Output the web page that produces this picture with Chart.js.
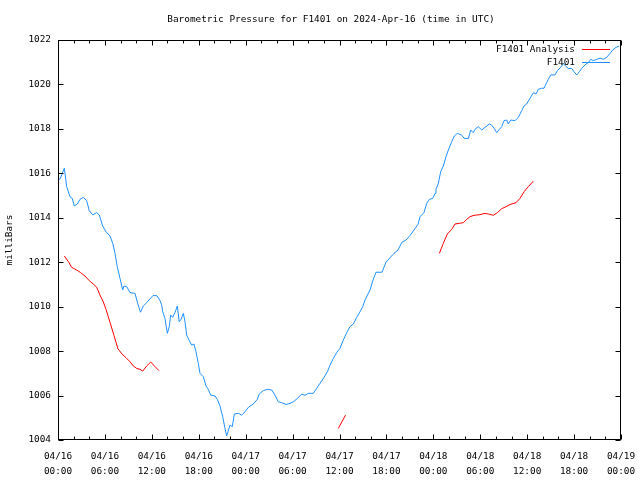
<!DOCTYPE html>
<html><head><meta charset="utf-8">
<script src="https://cdn.jsdelivr.net/npm/chart.js@4/dist/chart.umd.min.js"></script>
<style>html,body{margin:0;padding:0;background:#fff}#wrap{width:640px;height:480px}</style>
</head><body><div id="wrap"><canvas id="c" width="640" height="480"></canvas></div>
<script>
const titleText = "Barometric Pressure for F1401 on 2024-Apr-16 (time in UTC)";
const yAxisLabel = "milliBars";
const seriesNames = ["F1401 Analysis", "F1401"];
const xTickHours = [0, 6, 12, 18, 24, 30, 36, 42, 48, 54, 60, 66, 72];
const xTickDates = ["04/16","04/16","04/16","04/16","04/17","04/17","04/17","04/17","04/18","04/18","04/18","04/18","04/19"];
const xTickTimes = ["00:00","06:00","12:00","18:00","00:00","06:00","12:00","18:00","00:00","06:00","12:00","18:00","00:00"];
const yTicks = [1004, 1006, 1008, 1010, 1012, 1014, 1016, 1018, 1020, 1022];

// F1401 observations: hours since 04/16 00:00 UTC
const stationHours = [0.0,0.26,0.81,1.11,1.53,1.83,2.08,2.47,2.81,3.24,3.67,4.0,4.44,4.95,5.28,5.72,6.14,6.65,7.0,7.29,7.58,7.93,8.27,8.44,8.79,9.21,9.85,10.17,10.55,10.91,11.34,11.77,12.15,12.66,13.04,13.26,13.39,13.68,13.98,14.23,14.41,14.67,14.96,15.26,15.51,15.73,16.03,16.24,16.46,16.79,17.1,17.39,17.65,17.94,18.16,18.58,18.93,19.22,19.53,20.08,20.37,20.72,21.06,21.36,21.57,22.0,22.29,22.55,23.06,23.49,23.92,24.34,24.98,25.49,25.74,26.26,26.77,27.33,27.75,28.17,28.61,29.16,29.67,30.09,30.6,31.17,31.59,32.01,32.65,33.09,33.51,34.02,34.49,34.79,35.21,35.64,36.07,36.49,36.92,37.34,37.77,38.2,38.62,38.97,39.26,39.9,40.29,40.67,41.44,41.95,42.46,42.97,43.48,43.99,44.51,45.02,45.53,46.04,46.3,46.81,47.15,47.49,47.92,48.22,48.34,48.64,48.94,49.28,49.62,49.92,50.35,50.68,51.07,51.63,51.92,52.47,52.78,53.11,53.33,53.75,54.19,54.61,55.16,55.47,55.76,56.11,56.44,56.75,57.04,57.39,57.59,57.9,58.45,58.87,59.3,59.6,59.94,60.37,60.79,61.13,61.43,61.86,62.16,62.41,62.71,63.01,63.56,63.86,64.29,64.63,64.97,65.26,65.7,65.99,66.34,66.67,66.98,67.27,67.53,67.82,68.13,68.46,68.9,69.32,69.74,70.17,70.6,70.94,71.36,71.79];
const stationPressure = [1015.7,1015.75,1016.23,1015.4,1014.95,1014.87,1014.53,1014.62,1014.83,1014.92,1014.77,1014.32,1014.13,1014.23,1014.13,1013.63,1013.37,1013.18,1012.85,1012.4,1011.8,1011.27,1010.75,1010.93,1010.9,1010.63,1010.6,1010.17,1009.75,1010.03,1010.18,1010.35,1010.5,1010.49,1010.28,1010.08,1009.78,1009.47,1008.8,1009.1,1009.62,1009.52,1009.73,1010.03,1009.32,1009.43,1009.7,1009.32,1008.72,1008.47,1008.27,1008.32,1007.97,1007.45,1007.0,1006.85,1006.43,1006.28,1006.02,1005.98,1005.83,1005.53,1005.05,1004.52,1004.18,1004.67,1004.6,1005.17,1005.2,1005.12,1005.27,1005.47,1005.62,1005.83,1006.07,1006.22,1006.28,1006.25,1006.02,1005.72,1005.68,1005.6,1005.65,1005.72,1005.86,1006.07,1006.01,1006.1,1006.1,1006.33,1006.55,1006.82,1007.1,1007.37,1007.67,1007.93,1008.13,1008.5,1008.83,1009.1,1009.22,1009.52,1009.77,1010.0,1010.3,1010.75,1011.2,1011.55,1011.55,1012.0,1012.2,1012.4,1012.55,1012.9,1013.0,1013.2,1013.45,1013.7,1014.05,1014.23,1014.65,1014.83,1014.87,1015.1,1015.28,1015.55,1016.07,1016.33,1016.75,1017.05,1017.42,1017.68,1017.8,1017.72,1017.58,1017.56,1017.95,1017.83,1017.98,1018.1,1017.95,1018.07,1018.22,1018.17,1018.03,1017.83,1017.98,1018.1,1018.37,1018.4,1018.22,1018.4,1018.37,1018.52,1018.82,1019.03,1019.12,1019.38,1019.63,1019.57,1019.78,1019.83,1019.83,1020.02,1020.23,1020.43,1020.43,1020.62,1020.77,1020.95,1020.8,1020.72,1020.72,1020.57,1020.43,1020.57,1020.72,1020.83,1020.92,1020.98,1021.13,1021.07,1021.13,1021.18,1021.13,1021.22,1021.4,1021.55,1021.67,1021.73];

// F1401 Analysis (null marks a break between runs)
const analysisHours = [0.81,1.32,1.75,2.39,2.9,3.45,4.0,4.51,4.95,5.37,5.79,6.14,6.65,7.16,7.67,8.19,8.7,9.21,9.63,10.07,10.49,10.83,11.34,11.86,12.41,12.92,
  24,
  35.85,36.77,
  42,
  48.77,49.28,49.79,50.35,50.77,51.32,51.84,52.27,52.69,53.2,53.97,54.61,55.03,55.67,56.18,56.75,57.3,57.81,58.58,59.09,59.6,60.15,60.79];
const analysisPressure = [1012.28,1012.03,1011.77,1011.65,1011.53,1011.38,1011.17,1011.02,1010.87,1010.52,1010.22,1009.88,1009.3,1008.7,1008.1,1007.87,1007.7,1007.52,1007.33,1007.22,1007.18,1007.1,1007.33,1007.51,1007.3,1007.12,
  null,
  1004.52,1005.12,
  null,
  1012.4,1012.85,1013.27,1013.48,1013.72,1013.75,1013.78,1013.93,1014.05,1014.11,1014.14,1014.2,1014.17,1014.11,1014.23,1014.41,1014.5,1014.6,1014.68,1014.88,1015.17,1015.4,1015.65];

const FONT = "'DejaVu Sans Mono', monospace";
const FS = 9.4;
const RED = '#ff0000';
const BLUE = '#1e90ff';

const toPts = (xs, ys) => xs.map((h, i) => ({x: h, y: ys[i]}));

const decor = {
  id: 'decor',
  afterDraw(chart) {
    const {ctx, chartArea: a, scales: {x, y}} = chart;
    ctx.save();
    ctx.strokeStyle = '#000';
    ctx.lineWidth = 1;
    const L = Math.round(a.left) + 0.5, R = Math.round(a.right) - 0.5;
    const T = Math.round(a.top) + 0.5, B = Math.round(a.bottom) - 0.5;
    ctx.beginPath();
    for (let h = 0; h <= 72; h += 2) {
      const px = Math.round(x.getPixelForValue(h)) + 0.5;
      const len = (h % 6 === 0) ? 5 : 3;
      ctx.moveTo(px, B); ctx.lineTo(px, B - len);
      ctx.moveTo(px, T); ctx.lineTo(px, T + len);
    }
    for (const v of yTicks) {
      const py = Math.round(y.getPixelForValue(v)) + 0.5;
      ctx.moveTo(L, py); ctx.lineTo(L + 5, py);
      ctx.moveTo(R, py); ctx.lineTo(R - 5, py);
    }
    ctx.stroke();
    ctx.strokeRect(L, T, R - L, B - T);

    ctx.font = FS + 'px ' + FONT;
    ctx.fillStyle = '#000';
    ctx.textBaseline = 'middle';
    ctx.textAlign = 'center';
    ctx.fillText(titleText, 331, 20);

    ctx.textAlign = 'right';
    ctx.fillText(seriesNames[0], 575, 50);
    ctx.fillText(seriesNames[1], 575, 63);
    ctx.lineWidth = 1;
    ctx.strokeStyle = RED;
    ctx.beginPath(); ctx.moveTo(582, 49.5); ctx.lineTo(610, 49.5); ctx.stroke();
    ctx.strokeStyle = BLUE;
    ctx.beginPath(); ctx.moveTo(582, 62.5); ctx.lineTo(610, 62.5); ctx.stroke();
    ctx.restore();
  }
};

new Chart(document.getElementById('c'), {
  type: 'line',
  data: {
    datasets: [
      {label: seriesNames[0], data: toPts(analysisHours, analysisPressure), borderColor: RED, borderWidth: 1, pointRadius: 0, spanGaps: false, tension: 0, fill: false},
      {label: seriesNames[1], data: toPts(stationHours, stationPressure), borderColor: BLUE, borderWidth: 1, pointRadius: 0, tension: 0, fill: false}
    ]
  },
  options: {
    responsive: false,
    animation: false,
    devicePixelRatio: 1,
    layout: {padding: {top: 40, right: 19, left: 0, bottom: 0}},
    plugins: {legend: {display: false}, title: {display: false}, tooltip: {enabled: false}},
    scales: {
      x: {
        type: 'linear', min: 0, max: 72,
        afterFit: s => { s.height = 40; s.paddingLeft = 0; s.paddingRight = 0; },
        afterBuildTicks: s => { s.ticks = xTickHours.map(v => ({value: v})); },
        grid: {display: false, drawTicks: false},
        border: {display: false},
        ticks: {
          autoSkip: false, maxRotation: 0, minRotation: 0, padding: 10, color: '#000',
          font: {family: FONT, size: FS, lineHeight: 1.5},
          callback: v => { const i = xTickHours.indexOf(v); return i < 0 ? '' : [xTickDates[i], xTickTimes[i]]; }
        }
      },
      y: {
        type: 'linear', min: 1004, max: 1022,
        afterFit: s => { s.width = 58; s.paddingTop = 0; s.paddingBottom = 0; },
        afterBuildTicks: s => { s.ticks = yTicks.map(v => ({value: v})); },
        grid: {display: false, drawTicks: false},
        border: {display: false},
        ticks: {padding: 7, color: '#000', font: {family: FONT, size: FS}, callback: v => String(v)},
        title: {display: true, text: yAxisLabel, color: '#000', font: {family: FONT, size: FS}, padding: {top: 4, bottom: 0}}
      }
    }
  },
  plugins: [decor]
});
</script>
</body></html>
